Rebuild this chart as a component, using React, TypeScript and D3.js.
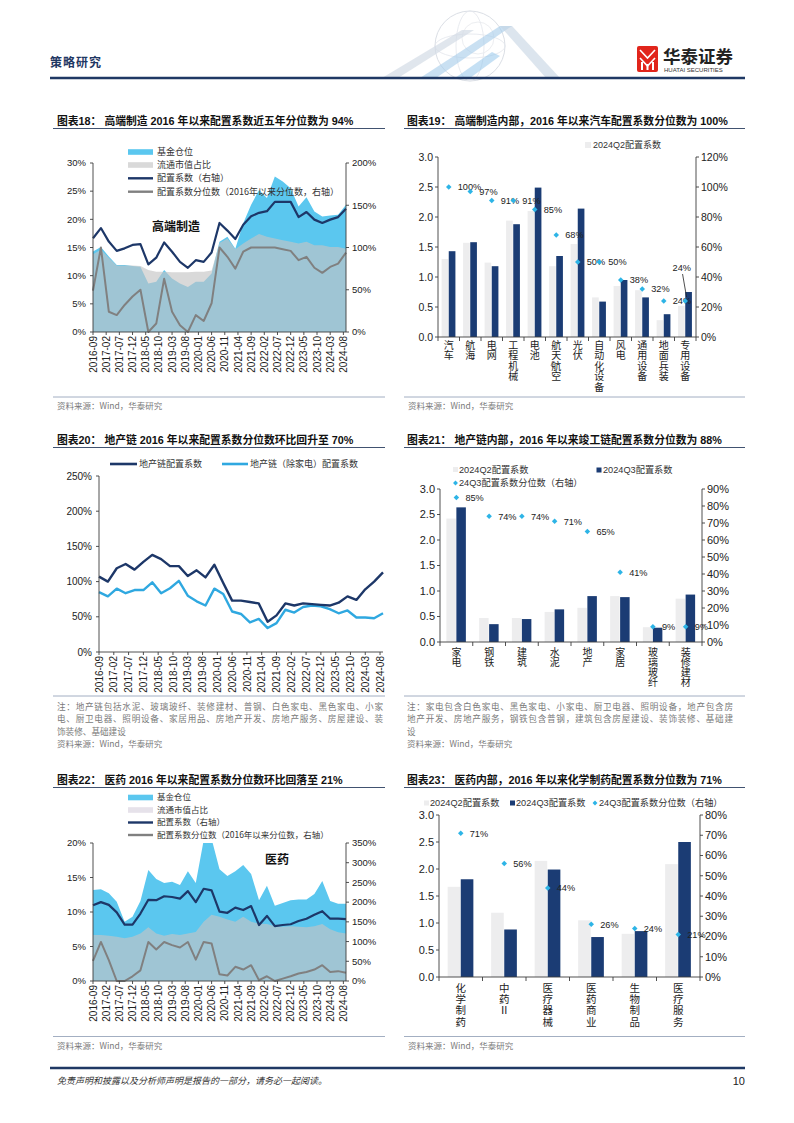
import React from 'react';
import * as d3 from 'd3';

const SANS = '"Liberation Sans", Arial, "Noto Sans CJK SC", sans-serif';
const CJK = '"Noto Sans CJK SC", "Liberation Sans", sans-serif';
const NAVY = '#1B3C74';
const LINE_NAVY = '#1D3768';
const SKY = '#5BC7EF';
const DIAMOND = '#2DB4E6';
const BAR_GREY = '#EDEDEE';
const AXIS = '#3C3C3C';

// column edges
const L0 = 53, L1 = 385, R0 = 404, R1 = 745;

// quarterly observations 2016-09 .. 2024-09, as month offsets from 2016-09
const quarterMonths = d3.range(0, 97, 3);
const dateLabels = ['2016-09', '2017-02', '2017-07', '2017-12', '2018-05', '2018-10', '2019-03', '2019-08', '2020-01', '2020-06',
  '2020-11', '2021-04', '2021-09', '2022-02', '2022-07', '2022-12', '2023-05', '2023-10', '2024-03', '2024-08'];

// 图表18 高端制造
const hmFund = [14.3, 15.1, 13.4, 11.9, 11.9, 11.7, 11.6, 8.6, 8.9, 11.0, 9.5, 8.6, 8.0, 8.9, 8.9, 10.4, 16.0, 16.9, 14.8, 19.3, 22.6, 25.2, 23.8, 27.6, 26.7, 25.5, 22.3, 23.9, 21.4, 20.5, 20.7, 20.8, 22.6];
const hmCap = [13.8, 14.6, 13.2, 11.8, 11.8, 11.8, 11.7, 11.0, 10.7, 10.7, 10.6, 10.6, 10.6, 10.7, 10.7, 10.9, 15.8, 16.6, 14.7, 15.7, 16.6, 17.4, 16.9, 16.6, 16.3, 16.0, 15.7, 16.0, 15.4, 15.4, 15.1, 15.1, 14.8];
const hmCoef = [111, 123, 107, 96, 99, 103, 104, 80, 88, 106, 95, 83, 76, 85, 83, 94, 129, 120, 110, 127, 137, 141, 143, 154, 154, 154, 136, 142, 133, 129, 133, 136, 146];
const hmPct = [49, 100, 24, 20, 32, 42, 50, 0, 10, 63, 24, 8, 0, 20, 13, 34, 100, 89, 75, 95, 100, 100, 100, 100, 98, 96, 85, 89, 76, 70, 77, 81, 94];

// 图表19 高端制造内部
const cats19 = ['汽车', '航海', '电网', '工程机械', '电池', '航天/航空', '光伏', '自动化设备', '风电', '通用设备', '地面兵装', '专用设备'];
const q2_19 = [1.30, 1.57, 1.24, 1.94, 2.10, 1.18, 1.55, 0.66, 0.85, 0.78, 0.28, 0.52];
const q3_19 = [1.43, 1.58, 1.18, 1.88, 2.49, 1.35, 2.14, 0.59, 0.95, 0.66, 0.38, 0.75];
const pct19 = [100, 97, 91, 91, 85, 68, 50, 50, 38, 32, 24, 24];

// 图表20 地产链
const reCoef = [107, 100, 119, 125, 117, 128, 138, 132, 122, 122, 108, 116, 106, 124, 98, 73, 73, 71, 69, 43, 52, 69, 66, 69, 68, 67, 66, 70, 79, 74, 89, 100, 113];
const reExHA = [85, 79, 90, 83.5, 88, 88, 99, 83.5, 90.5, 101, 80, 72, 66, 90, 82.5, 57.5, 54, 42, 47, 34, 41, 60, 56, 64, 66, 65, 61, 55, 59, 49, 49, 48, 55];

// 图表21 地产链内部
const cats21 = ['家电', '钢铁', '建筑', '水泥', '地产', '家居', '玻璃玻纤', '装修建材'];
const q2_21 = [2.42, 0.47, 0.47, 0.59, 0.67, 0.90, 0.29, 0.85];
const q3_21 = [2.64, 0.35, 0.45, 0.64, 0.90, 0.88, 0.28, 0.93];
const pct21 = [85, 74, 74, 71, 65, 41, 9, 9];

// 图表22 医药
const medFund = [13.2, 13.3, 12.7, 11.5, 8.6, 9.3, 11.6, 16.1, 14.8, 14.2, 14.4, 13.9, 15.9, 14.2, 20.4, 20.6, 16.2, 15.2, 15.9, 16.8, 15.5, 11.7, 13.8, 10.9, 11.3, 11.7, 11.8, 11.8, 12.6, 14.5, 11.6, 11.2, 11.2];
const medCap = [6.65, 6.65, 6.55, 6.4, 6.2, 6.4, 6.9, 7.8, 6.9, 6.55, 6.8, 6.65, 6.9, 7.1, 8.6, 9.6, 9.3, 8.9, 8.6, 9.3, 8.6, 8.3, 8.25, 7.95, 7.85, 7.95, 7.85, 7.8, 7.95, 8.25, 7.5, 7.05, 6.9];
const medCoef = [192, 200, 193, 174, 143, 143, 171, 206, 205, 215, 213, 209, 228, 200, 234, 230, 176, 173, 186, 180, 190, 142, 165, 139, 142, 144, 152, 158, 168, 177, 158, 158, 157];
const medPct = [51, 99, 53, 0, 0, 12, 27, 99, 80, 99, 91, 85, 99, 54, 99, 95, 17, 14, 36, 29, 40, 2, 12, 0, 6, 12, 19, 23, 29, 40, 23, 25, 21];

// 图表23 医药内部
const cats23 = ['化学制药', '中药Ⅱ', '医疗器械', '医药商业', '生物制品', '医疗服务'];
const q2_23 = [1.67, 1.19, 2.15, 1.05, 0.80, 2.09];
const q3_23 = [1.81, 0.88, 1.99, 0.74, 0.85, 2.50];
const pct23 = [71, 56, 44, 26, 24, 21];

const dualLegend = ['基金仓位', '流通市值占比', '配置系数（右轴）', '配置系数分位数（2016年以来分位数，右轴）'];

function Title({ x, y, x1, x2, text }: any) {
  return (
    <g>
      <text x={x} y={y} fontFamily={SANS} fontWeight={700} fontSize={10.8} fill="#111">{text}</text>
      <line x1={x1} x2={x2} y1={y + 3.5} y2={y + 3.5} stroke="#2B3E60" strokeWidth={0.9} />
    </g>
  );
}

function Source({ x1, x2, y }: any) {
  return (
    <g>
      <line x1={x1} x2={x2} y1={y} y2={y} stroke="#8C9BB3" strokeWidth={0.8} />
      <text x={x1 + 4} y={y + 12} fontFamily={CJK} fontSize={8.5} fill="#7a7a7a">资料来源：Wind，华泰研究</text>
    </g>
  );
}

function YAxis({ scale, x, side, values, fmt, size, gap }: any) {
  const [b, t] = scale.range();
  const dir = side === 'left' ? -1 : 1;
  return (
    <g>
      <line x1={x} x2={x} y1={b} y2={t} stroke={AXIS} strokeWidth={0.9} />
      {values.map((v: number) => (
        <g key={v}>
          <line x1={x} x2={x + dir * 3} y1={scale(v)} y2={scale(v)} stroke={AXIS} strokeWidth={0.9} />
          <text x={x + dir * gap} y={scale(v)} dy="0.35em" textAnchor={side === 'left' ? 'end' : 'start'}
            fontFamily={SANS} fontSize={size} fill="#222">{fmt(v)}</text>
        </g>
      ))}
    </g>
  );
}

function DateAxis({ x, y }: any) {
  const [a, b] = x.range();
  return (
    <g>
      <line x1={a} x2={b} y1={y} y2={y} stroke={AXIS} strokeWidth={0.9} />
      {dateLabels.map((t, k) => {
        const px = x(k * 5);
        return (
          <g key={t}>
            <line x1={px} x2={px} y1={y} y2={y + 3} stroke={AXIS} strokeWidth={0.9} />
            <text transform={`translate(${px},${y + 4}) rotate(-90)`} textAnchor="end" dy="0.36em"
              fontFamily={SANS} fontSize={10} fill="#222">{t}</text>
          </g>
        );
      })}
    </g>
  );
}

function DualChart(p: any) {
  const x = d3.scaleLinear().domain([0, 96]).range([p.left, p.right]);
  const yl = d3.scaleLinear().domain([0, p.lMax]).range([p.bottom, p.top]);
  const yr = d3.scaleLinear().domain([0, p.rMax]).range([p.bottom, p.top]);
  const px = (_: number, i: number) => x(quarterMonths[i]);
  const area = d3.area<number>().x(px).y0(p.bottom).y1(d => yl(d));
  const lineR = d3.line<number>().x(px).y(d => yr(d));
  const clipId = `clip-${p.id}`;
  const lx = 128;
  return (
    <g>
      <defs>
        <clipPath id={clipId}>
          <rect x={p.left} y={p.top} width={p.right - p.left} height={p.bottom - p.top} />
        </clipPath>
      </defs>
      <g clipPath={`url(#${clipId})`}>
        <path d={area(p.fund) as string} fill={SKY} />
        <path d={area(p.cap) as string} fill="#C5C5C5" fillOpacity={0.65} />
      </g>
      <path d={lineR(p.coef) as string} fill="none" stroke={LINE_NAVY} strokeWidth={2.2} strokeLinejoin="round" />
      <path d={lineR(p.pct) as string} fill="none" stroke="#808080" strokeWidth={2} strokeLinejoin="round" />
      <YAxis scale={yl} x={p.left} side="left" values={d3.range(0, p.lMax + 0.1, p.lStep)} fmt={(v: number) => `${v}%`} size={9.5} gap={7} />
      <YAxis scale={yr} x={p.right} side="right" values={d3.range(0, p.rMax + 1, p.rStep)} fmt={(v: number) => `${v}%`} size={9.5} gap={6} />
      <DateAxis x={x} y={p.bottom} />
      {dualLegend.map((t, k) => {
        const cy = p.legendY[k];
        return (
          <g key={t}>
            {k === 0 && <rect x={lx} y={cy - 2.8} width={25} height={5.6} fill={SKY} />}
            {k === 1 && <rect x={lx} y={cy - 2.8} width={25} height={5.6} fill={p.capSwatch} />}
            {k === 2 && <line x1={lx} x2={lx + 25} y1={cy} y2={cy} stroke={LINE_NAVY} strokeWidth={2.4} />}
            {k === 3 && <line x1={lx} x2={lx + 25} y1={cy} y2={cy} stroke="#808080" strokeWidth={2.4} />}
            <text x={lx + 29} y={cy} dy="0.35em" fontFamily={CJK} fontSize={p.legendSize} fill="#333">{t}</text>
          </g>
        );
      })}
      <text x={p.tagX} y={p.tagY} fontFamily={CJK} fontWeight={700} fontSize={12} fill="#111">{p.tag}</text>
    </g>
  );
}

function BarChart(p: any) {
  const x = d3.scaleBand<string>().domain(p.cats).range([p.left, p.right]);
  const bw = x.bandwidth();
  const w = bw * p.barFrac;
  const yl = d3.scaleLinear().domain([0, 3]).range([p.bottom, p.top]);
  const yr = d3.scaleLinear().domain([0, p.rMax]).range([p.bottom, p.top]);
  const diamond = d3.symbol().type(d3.symbolSquare).size(15)() as string;
  const step = p.charSize + p.charGap;
  return (
    <g>
      {p.cats.map((c: string, i: number) => {
        const cx = (x(c) as number) + bw / 2;
        return (
          <g key={c}>
            <rect x={cx - w - 0.5} y={yl(p.q2[i])} width={w} height={p.bottom - yl(p.q2[i])} fill={BAR_GREY} />
            <rect x={cx} y={yl(p.q3[i])} width={w} height={p.bottom - yl(p.q3[i])} fill={NAVY} />
          </g>
        );
      })}
      <YAxis scale={yl} x={p.left} side="left" values={d3.range(0, 3.01, 0.5)} fmt={d3.format('.1f')} size={p.tickSize} gap={5} />
      <YAxis scale={yr} x={p.right} side="right" values={d3.range(0, p.rMax + 1, p.rStep)} fmt={(v: number) => `${v}%`} size={p.tickSize} gap={5} />
      <line x1={p.left} x2={p.right} y1={p.bottom} y2={p.bottom} stroke={AXIS} strokeWidth={0.9} />
      {d3.range(p.cats.length + 1).map(k => {
        const tx = p.left + k * x.step();
        return <line key={k} x1={tx} x2={tx} y1={p.bottom} y2={p.bottom + 4} stroke={AXIS} strokeWidth={0.9} />;
      })}
      {p.cats.map((c: string) => {
        const cx = (x(c) as number) + bw / 2;
        const slash = c.indexOf('/');
        const body = c.replace('/', '');
        return (
          <g key={c}>
            <text x={cx} y={p.bottom + p.charTop} fontFamily={CJK} fontSize={p.charSize} fill="#222"
              letterSpacing={p.charGap} writingMode="vertical-rl"
              style={{ writingMode: 'vertical-rl', textOrientation: 'upright' } as any}>{body}</text>
            {slash >= 0 && (
              <text x={cx - 4.5} y={p.bottom + p.charTop + slash * step + p.charSize * 0.45} fontFamily={SANS}
                fontSize={p.charSize * 0.8} fill="#222" textAnchor="middle">/</text>
            )}
          </g>
        );
      })}
      {p.cats.map((c: string, i: number) => {
        const cx = (x(c) as number) + bw / 2;
        const cy = yr(p.pct[i]);
        const moved = p.moved === i;
        return (
          <g key={c}>
            <path d={diamond} transform={`translate(${cx},${cy}) rotate(45)`} fill={DIAMOND} />
            {moved ? (
              <g>
                <line x1={cx - 2.7} y1={cy - 27} x2={cx + 1.3} y2={cy - 4} stroke="#222" strokeWidth={0.8} />
                <text x={cx - 3.5} y={cy - 30.5} textAnchor="middle" fontFamily={SANS} fontSize={9.2} fill="#222">{`${p.pct[i]}%`}</text>
              </g>
            ) : (
              <text x={cx + 9} y={cy} dy="0.36em" fontFamily={SANS} fontSize={9.2} fill="#222">{`${p.pct[i]}%`}</text>
            )}
          </g>
        );
      })}
    </g>
  );
}

function Diamond({ x, y }: any) {
  const d = d3.symbol().type(d3.symbolSquare).size(12)() as string;
  return <path d={d} transform={`translate(${x},${y}) rotate(45)`} fill={DIAMOND} />;
}

function Header() {
  return (
    <g>
      <g opacity={0.8}>
        <circle cx={470} cy={46} r={35} fill="none" stroke="#D3D8E0" strokeWidth={1} />
        <ellipse cx={470} cy={46} rx={35} ry={12} fill="none" stroke="#DDE1E8" strokeWidth={0.8} />
        <ellipse cx={470} cy={46} rx={14} ry={35} fill="none" stroke="#DDE1E8" strokeWidth={0.8} />
        <circle cx={478} cy={38} r={16} fill="none" stroke="#E2E5EA" strokeWidth={0.8} />
        <path d="M382 78 L462 30 L474 30 L398 78 Z" fill="#C9D3DF" opacity={0.7} />
        <path d="M420 78 L500 26 L512 26 L436 78 Z" fill="#8FC0E6" opacity={0.6} />
        <path d="M500 26 L512 26 L560 78 L546 78 Z" fill="#B8C9DC" opacity={0.6} />
        <path d="M455 78 L492 52 L500 56 L470 78 Z" fill="#6FB3E6" opacity={0.5} />
      </g>
      <text x={50} y={67} fontFamily={CJK} fontWeight={700} fontSize={12} letterSpacing={1} fill="#1F3864">策略研究</text>
      <rect x={637} y={46} width={21} height={26} rx={2} fill="#E1251B" />
      <path d="M640 50 L647.5 58 L655 50 M640 58 L647.5 66 L655 58" fill="none" stroke="#fff" strokeWidth={1.6} />
      <rect x={641} y={62} width={2} height={8} fill="#fff" />
      <rect x={646.5} y={64} width={2} height={6} fill="#fff" />
      <rect x={652} y={62} width={2} height={8} fill="#fff" />
      <text x={663} y={63} fontFamily={CJK} fontWeight={700} fontSize={17.5} fill="#222">华泰证券</text>
      <text x={664} y={71.5} fontFamily={SANS} fontSize={6} fill="#333">HUATAI SECURITIES</text>
      <line x1={50} x2={745} y1={78} y2={78} stroke="#1F3864" strokeWidth={2.5} />
    </g>
  );
}

function Footer() {
  return (
    <g>
      <line x1={50} x2={745} y1={1068} y2={1068} stroke="#1F3864" strokeWidth={2.5} />
      <text x={57} y={1084} fontFamily={CJK} fontStyle="italic" fontSize={9} fill="#333">免责声明和披露以及分析师声明是报告的一部分，请务必一起阅读。</text>
      <text x={745} y={1085} textAnchor="end" fontFamily={SANS} fontSize={11} fill="#222">10</text>
    </g>
  );
}

function Note({ x, y, lines, width }: any) {
  return (
    <g>
      {lines.map((t: string, k: number) => (
        <text key={k} x={x} y={y + k * 12.5} fontFamily={CJK} fontSize={8.6} fill="#7a7a7a"
          {...(k < lines.length - 1 ? { textLength: width, lengthAdjust: 'spacing' } : {})}>{t}</text>
      ))}
    </g>
  );
}

function RealEstateChart() {
  const left = 99, right = 383, top = 476, bottom = 652;
  const x = d3.scaleLinear().domain([0, 96]).range([left, right]);
  const y = d3.scaleLinear().domain([0, 250]).range([bottom, top]);
  const line = d3.line<number>().x((_, i) => x(quarterMonths[i])).y(d => y(d));
  return (
    <g>
      <path d={line(reExHA) as string} fill="none" stroke="#2FA8E0" strokeWidth={2.4} strokeLinejoin="round" />
      <path d={line(reCoef) as string} fill="none" stroke={LINE_NAVY} strokeWidth={2.4} strokeLinejoin="round" />
      <YAxis scale={y} x={left} side="left" values={d3.range(0, 251, 50)} fmt={(v: number) => `${v}%`} size={10} gap={7} />
      <DateAxis x={x} y={bottom} />
      <line x1={110} x2={137} y1={464} y2={464} stroke={LINE_NAVY} strokeWidth={2.6} />
      <text x={139} y={464} dy="0.35em" fontFamily={CJK} fontSize={9} fill="#333">地产链配置系数</text>
      <line x1={222} x2={248} y1={464} y2={464} stroke="#2FA8E0" strokeWidth={2.6} />
      <text x={250} y={464} dy="0.35em" fontFamily={CJK} fontSize={9} fill="#333">地产链（除家电）配置系数</text>
    </g>
  );
}

export default function App() {
  return (
    <svg width={794} height={1123} viewBox="0 0 794 1123" style={{ position: 'absolute', left: 0, top: 0 }}>
      <rect width={794} height={1123} fill="#fff" />
      <Header />

      {/* 图表18 */}
      <Title x={57} y={125} x1={L0} x2={L1} text="图表18： 高端制造 2016 年以来配置系数近五年分位数为 94%" />
      <DualChart id="c18" left={93} right={346} top={163} bottom={332} lMax={30} lStep={5} rMax={200} rStep={50}
        fund={hmFund} cap={hmCap} coef={hmCoef} pct={hmPct} capSwatch="#D9D9D9" legendSize={9}
        legendY={[152, 165, 178.3, 191.7]} tag="高端制造" tagX={152} tagY={231} />
      <Source x1={L0} x2={L1} y={397} />

      {/* 图表19 */}
      <Title x={407} y={125} x1={R0} x2={R1} text="图表19： 高端制造内部，2016 年以来汽车配置系数分位数为 100%" />
      <rect x={585} y={142} width={6} height={6} fill={BAR_GREY} />
      <text x={593} y={145} dy="0.35em" fontFamily={SANS} fontSize={9} fill="#333">2024Q2配置系数</text>
      <BarChart cats={cats19} q2={q2_19} q3={q3_19} pct={pct19} left={438} right={696} top={157} bottom={337}
        rMax={120} rStep={20} barFrac={0.31} tickSize={10.5} charTop={3} charSize={10} charGap={0.5} moved={11} />
      <Source x1={R0} x2={R1} y={397} />

      {/* 图表20 */}
      <Title x={57} y={444} x1={L0} x2={L1} text="图表20： 地产链 2016 年以来配置系数分位数环比回升至 70%" />
      <RealEstateChart />
      <line x1={L0} x2={L1} y1={696} y2={696} stroke="#8C9BB3" strokeWidth={0.8} />
      <Note x={57} y={709.5} width={326} lines={[
        '注：地产链包括水泥、玻璃玻纤、装修建材、普钢、白色家电、黑色家电、小家',
        '电、厨卫电器、照明设备、家居用品、房地产开发、房地产服务、房屋建设、装',
        '饰装修、基础建设']} />
      <text x={57} y={747} fontFamily={CJK} fontSize={8.5} fill="#7a7a7a">资料来源：Wind，华泰研究</text>

      {/* 图表21 */}
      <Title x={407} y={444} x1={R0} x2={R1} text="图表21： 地产链内部，2016 年以来竣工链配置系数分位数为 88%" />
      <rect x={453} y={467} width={5} height={5} fill={BAR_GREY} />
      <text x={459} y={470} dy="0.35em" fontFamily={SANS} fontSize={9.2} fill="#333">2024Q2配置系数</text>
      <rect x={596.5} y={467.5} width={5} height={5} fill={NAVY} />
      <text x={603} y={470} dy="0.35em" fontFamily={SANS} fontSize={9.2} fill="#333">2024Q3配置系数</text>
      <Diamond x={455.5} y={483} />
      <text x={459} y={483} dy="0.35em" fontFamily={SANS} fontSize={9.2} fill="#333">24Q3配置系数分位数（右轴）</text>
      <BarChart cats={cats21} q2={q2_21} q3={q3_21} pct={pct21} left={440} right={702} top={489} bottom={642}
        rMax={90} rStep={10} barFrac={0.29} tickSize={11} charTop={5} charSize={10} charGap={0.2} moved={-1} />
      <line x1={R0} x2={R1} y1={696} y2={696} stroke="#8C9BB3" strokeWidth={0.8} />
      <Note x={407} y={709.5} width={326} lines={[
        '注：家电包含白色家电、黑色家电、小家电、厨卫电器、照明设备，地产包含房',
        '地产开发、房地产服务，钢铁包含普钢，建筑包含房屋建设、装饰装修、基础建',
        '设']} />
      <text x={407} y={747} fontFamily={CJK} fontSize={8.5} fill="#7a7a7a">资料来源：Wind，华泰研究</text>

      {/* 图表22 */}
      <Title x={57} y={784} x1={L0} x2={L1} text="图表22： 医药 2016 年以来配置系数分位数环比回落至 21%" />
      <DualChart id="c22" left={93} right={346} top={843} bottom={981} lMax={20} lStep={5} rMax={350} rStep={50}
        fund={medFund} cap={medCap} coef={medCoef} pct={medPct} capSwatch="#E6E2EA" legendSize={8.5}
        legendY={[797.5, 810, 822.5, 835]} tag="医药" tagX={265} tagY={864} />
      <Source x1={L0} x2={L1} y={1036.5} />

      {/* 图表23 */}
      <Title x={407} y={784} x1={R0} x2={R1} text="图表23： 医药内部，2016 年以来化学制药配置系数分位数为 71%" />
      <rect x={424} y={800.5} width={5} height={5} fill={BAR_GREY} />
      <text x={430} y={803} dy="0.35em" fontFamily={SANS} fontSize={9.2} fill="#333">2024Q2配置系数</text>
      <rect x={510} y={800.5} width={5} height={5} fill={NAVY} />
      <text x={516} y={803} dy="0.35em" fontFamily={SANS} fontSize={9.2} fill="#333">2024Q3配置系数</text>
      <Diamond x={595} y={803} />
      <text x={599} y={803} dy="0.35em" fontFamily={SANS} fontSize={9.2} fill="#333">24Q3配置系数分位数（右轴）</text>
      <BarChart cats={cats23} q2={q2_23} q3={q3_23} pct={pct23} left={439} right={700} top={815} bottom={977}
        rMax={80} rStep={10} barFrac={0.29} tickSize={11} charTop={5.5} charSize={10.5} charGap={0.8} moved={-1} />
      <Source x1={R0} x2={R1} y={1036.5} />

      <Footer />
    </svg>
  );
}
